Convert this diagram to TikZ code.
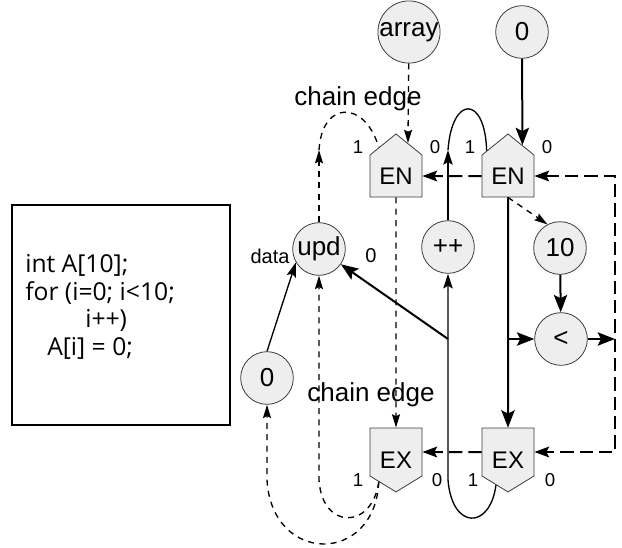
\documentclass[tikz,border=0pt]{standalone}
\usepackage{fontspec}
\setmainfont{Liberation Sans}
\newfontfamily\codefont{Open Sans}
\usetikzlibrary{arrows.meta,shapes.symbols}
\definecolor{nodefill}{RGB}{238,238,238}
\definecolor{nodeline}{RGB}{60,60,60}
\tikzset{
  op/.style={circle, draw=nodeline, fill=nodefill, line width=0.6pt, minimum size=39.5pt, inner sep=0pt, font=\fontsize{19.5}{22}\selectfont},
  entry/.style={shape=signal, signal to=north, signal from=nowhere, signal pointer angle=102, draw=nodeline, fill=nodefill, line width=0.6pt, minimum width=39pt, inner xsep=6pt, inner ysep=0pt, text height=22.2pt, text depth=9.3pt, font=\fontsize{18}{20}\selectfont},
  exit/.style={shape=signal, signal to=south, signal from=nowhere, signal pointer angle=117, draw=nodeline, fill=nodefill, line width=0.6pt, minimum width=39pt, inner xsep=6pt, inner ysep=0pt, text height=30.45pt, text depth=5.55pt, font=\fontsize{18}{20}\selectfont},
  port/.style={font=\fontsize{14}{16}\selectfont, inner sep=0pt},
  lbl/.style={font=\fontsize{19.5}{22}\selectfont, inner sep=0pt},
  thk/.style={line width=1.5pt},
  thn/.style={line width=1pt, >={Stealth[length=11pt,width=7pt,inset=2pt]}},
  chain/.style={line width=1pt, dash pattern=on 4.5pt off 4pt, >={Stealth[length=10pt,width=6pt,inset=1.5pt]}},
  ctrl/.style={line width=1.5pt, dash pattern=on 10pt off 4.5pt, >={Stealth[length=11pt,width=8pt,inset=2pt]}},
}
\begin{document}
\begin{tikzpicture}[x=0.75pt, y=-0.75pt, >={Stealth[length=13pt,width=10pt,inset=2.5pt]}]
\useasboundingbox (0,0) rectangle (622,547);
% source program
\node[draw, line width=1.4pt, minimum width=163.5pt, minimum height=165pt] (codebox) at (121,315) {};
\node[anchor=west, align=left, inner sep=0pt, font=\codefont\fontsize{18.5}{20.8}\selectfont] (codetext) at (25,307) {int A[10];\\for (i=0; i<10;\\\hspace{45pt}i++)\\\hspace{16.5pt}A[i] = 0;};
% operators
\node[op] (array) at (409,32) {array};
\node[op] (zerotop) at (522,32) {0};
\node[op] (upd) at (319,249) {upd};
\node[op] (inc) at (448,247) {++};
\node[op] (ten) at (560,248) {10};
\node[op] (lt) at (561,339) {<};
\node[op] (zeroleft) at (267,378) {0};
% loop entries and exits
\node[entry] (enl) at (396,176) {EN};
\node[entry] (enr) at (508,176) {EN};
\node[exit] (exl) at (396,452) {EX};
\node[exit] (exr) at (508,452) {EX};
% port labels
\node[port] (enlone) at (358,147) {1};
\node[port] (enlzero) at (435,147) {0};
\node[port] (enrone) at (470,147) {1};
\node[port] (enrzero) at (547,147) {0};
\node[port] (exlone) at (358,480) {1};
\node[port] (exlzero) at (437,480) {0};
\node[port] (exrone) at (473,480) {1};
\node[port] (exrzero) at (550,480) {0};
\node[port, font=\fontsize{15}{17}\selectfont] (datalbl) at (270,256) {data};
\node[port, font=\fontsize{15}{17}\selectfont] (updzero) at (371,256) {0};
\node[lbl] (chaintop) at (358,99) {chain edge};
\node[lbl] (chainbot) at (371,395) {chain edge};
% bends
\coordinate (rail) at (615,315);
\coordinate (incup) at (448,150);
\coordinate (incdown) at (448,480);
\coordinate (updup) at (319,150);
\coordinate (upddown) at (319,480);
\coordinate (zerodown) at (267,480);
% control edges
\draw[chain,->] (array) -- (enl.70);
\draw[thk,->] (zerotop) -- (enr.65);
\draw[ctrl,->] (enr) -- (enl);
\draw[ctrl,<->] (enr) -| (rail) |- (exr);
\draw[thk,->] (enr) -- (exr);
\draw[thk,->] (enr |- lt) -- (lt);
\draw[chain,->] (enr.south) -- (ten.118);
\draw[thk,->] (ten) -- (lt);
\draw[thk,->] (lt) -- (lt -| rail);
\draw[chain,->] (enl) -- (exl);
\draw[ctrl,->] (exr) -- (exl);
\draw[thn,->] (zeroleft.north) -- (upd.210);
% loop through ++
\draw[thn,->] (exr.250) .. controls (490,530) and (452,530) .. (incdown) -- (inc);
\draw[thn,->] (inc) -- (incup);
\draw[thn] (incup) .. controls (452,95) and (485,95) .. (enr.130);
\draw[thk,->] (inc |- lt) -- (upd);
% chain edges
\draw[chain,->] (upd) -- (updup);
\draw[chain] (updup) .. controls (322,100) and (365,100) .. (enl.121);
\draw[chain,->] (exl.240) .. controls (372,530) and (322,530) .. (upddown) -- (upd);
\draw[chain,->] (exl.240) .. controls (375,565) and (272,565) .. (zerodown) -- (zeroleft);
\end{tikzpicture}
\end{document}
